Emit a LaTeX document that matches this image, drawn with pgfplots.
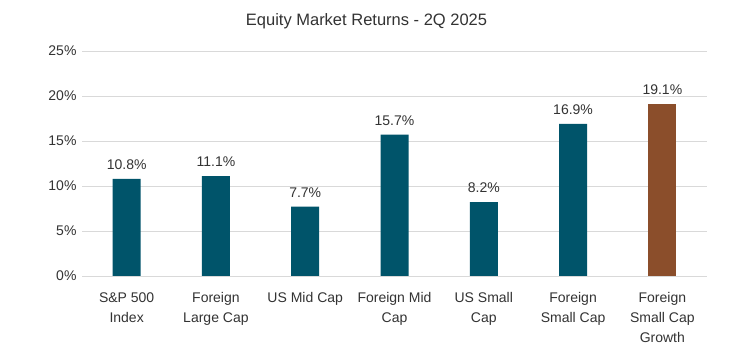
\documentclass[border=0pt]{standalone}
\usepackage{pgfplots}
\pgfplotsset{compat=1.18}
\usepackage{fontspec}
\setmainfont{Liberation Sans}
\definecolor{teal1}{HTML}{00546A}
\definecolor{brown1}{HTML}{8B4E2B}
\definecolor{txt}{HTML}{333333}
\definecolor{grid1}{HTML}{D9D9D9}
\begin{document}
\begin{tikzpicture}[x=1pt,y=1pt]
\useasboundingbox (0,0) rectangle (733,353);
\fill[white] (0,0) rectangle (733,353);
\node[txt,font=\fontsize{16.5}{18}\selectfont] at (366.5,332) {Equity Market Returns - 2Q 2025};
\begin{axis}[
  at={(82pt,77pt)}, anchor=south west,
  scale only axis, width=625pt, height=225pt,
  xmin=-0.5, xmax=6.5, ymin=0, ymax=25,
  ytick={0,5,10,15,20,25},
  yticklabel={\pgfmathprintnumber{\tick}\%},
  xtick={0,1,2,3,4,5,6},
  xticklabels={{S\&P 500\\Index},{Foreign\\Large Cap},{US Mid Cap},{Foreign Mid\\Cap},{US Small\\Cap},{Foreign\\Small Cap},{Foreign\\Small Cap\\Growth}},
  xticklabel style={align=center, font=\fontsize{14}{20}\selectfont, text=txt, yshift=-13pt},
  yticklabel style={font=\fontsize{14}{16}\selectfont, text=txt, xshift=-2pt},
  /pgf/number format/assume math mode=true,
  axis line style={draw=none},
  major tick length=0pt,
  ymajorgrids, grid style={grid1, line width=0.8pt},
  ybar, bar width=28pt, bar shift=0pt,
  nodes near coords={\pgfmathprintnumber[fixed,precision=1,fixed zerofill]{\pgfplotspointmeta}\%},
  nodes near coords style={font=\fontsize{14}{16}\selectfont, text=txt, yshift=6pt},
  every node near coord/.append style={/pgf/number format/assume math mode=true},
]
\addplot[fill=teal1, draw=none] coordinates {(0,10.8) (1,11.1) (2,7.7) (3,15.7) (4,8.2) (5,16.9)};
\addplot[fill=brown1, draw=none] coordinates {(6,19.1)};
\end{axis}
\end{tikzpicture}
\end{document}
